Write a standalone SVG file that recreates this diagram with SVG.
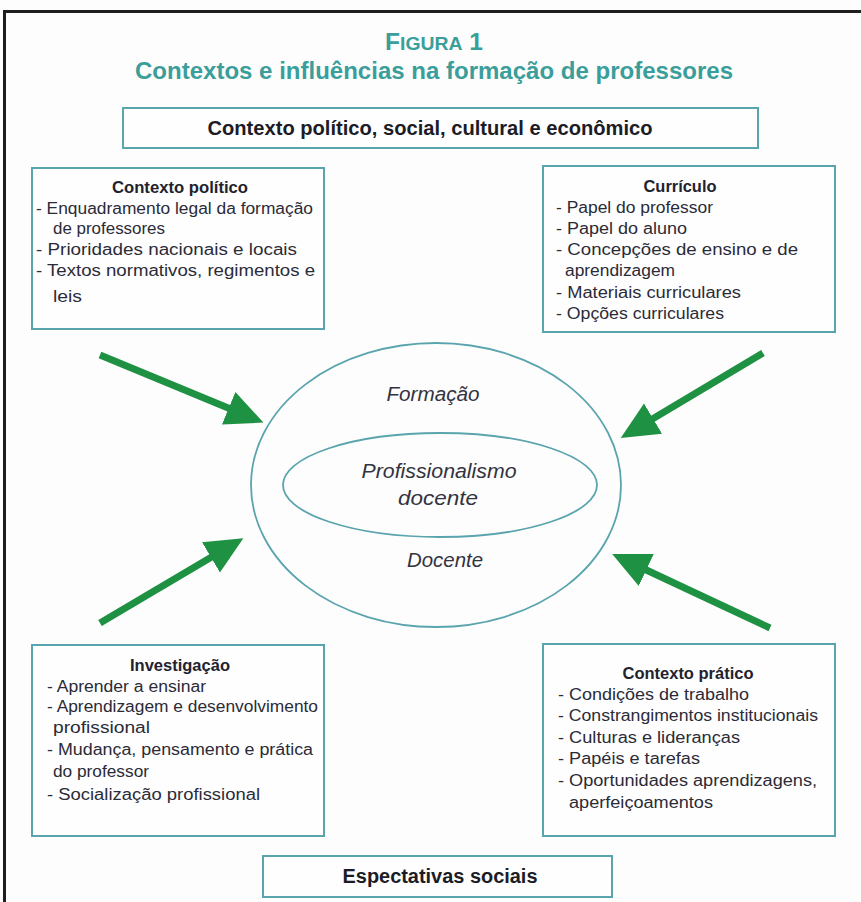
<svg xmlns="http://www.w3.org/2000/svg" width="861" height="902" viewBox="0 0 861 902">
<style>
.bg{fill:#fdfdfd}
.frame{stroke:#1e1e1e;stroke-width:3;fill:none}
.box{fill:#fefefe;stroke:#5aa4ae;stroke-width:2}
.ell{fill:none;stroke:#5aa4ae;stroke-width:1.8}
.t{font-family:"Liberation Sans",Arial,sans-serif;font-size:16px;fill:#2b2b38}
.h{font-family:"Liberation Sans Narrow","Liberation Sans",Arial,sans-serif;font-weight:bold;font-size:16px;fill:#22222e}
.hb{font-family:"Liberation Sans Narrow","Liberation Sans",Arial,sans-serif;font-weight:bold;font-size:20px;fill:#1c1c26}
.ti{font-family:"Liberation Sans Narrow","Liberation Sans",Arial,sans-serif;font-weight:bold;fill:#3a9e9b}
.it{font-family:"Liberation Sans",Arial,sans-serif;font-style:italic;font-size:20px;fill:#333340}
.arr{stroke:#1f9142;stroke-width:7;fill:none;marker-end:url(#ah)}
</style>
<defs>
<marker id="ah" markerUnits="userSpaceOnUse" markerWidth="40" markerHeight="40" viewBox="0 -16 34 32" refX="4" refY="0" orient="auto">
<path d="M0,-15 L32,0 L0,15 z" fill="#1f9142"/>
</marker>
</defs>
<rect class="bg" x="0" y="0" width="861" height="902"/>
<path class="frame" d="M4.5,902 L4.5,11.5 L861,11.5"/>

<g id="title">
<text class="ti" x="434" y="50" text-anchor="middle" textLength="98" lengthAdjust="spacingAndGlyphs"><tspan font-size="24">F</tspan><tspan font-size="19">IGURA</tspan><tspan font-size="24"> 1</tspan></text>
<text class="ti" x="434" y="79" text-anchor="middle" font-size="24" textLength="598" lengthAdjust="spacingAndGlyphs">Contextos e influências na formação de professores</text>
</g>

<g id="contexto-geral">
<rect class="box" x="123" y="108" width="635" height="40"/>
<text class="hb" x="430" y="135" text-anchor="middle" font-size="19" textLength="445" lengthAdjust="spacingAndGlyphs">Contexto político, social, cultural e econômico</text>
</g>

<g id="contexto-politico">
<rect class="box" x="32" y="168" width="292" height="161"/>
<text class="h" x="180" y="193" text-anchor="middle" textLength="136" lengthAdjust="spacingAndGlyphs">Contexto político</text>
<text class="t" x="36" y="214" textLength="277" lengthAdjust="spacingAndGlyphs">- Enquadramento legal da formação</text>
<text class="t" x="53" y="234" textLength="112" lengthAdjust="spacingAndGlyphs">de professores</text>
<text class="t" x="36" y="255" textLength="261" lengthAdjust="spacingAndGlyphs">- Prioridades nacionais e locais</text>
<text class="t" x="36" y="276" textLength="279" lengthAdjust="spacingAndGlyphs">- Textos normativos, regimentos e</text>
<text class="t" x="53" y="302" textLength="29" lengthAdjust="spacingAndGlyphs">leis</text>
</g>

<g id="curriculo">
<rect class="box" x="543" y="166" width="292" height="166"/>
<text class="h" x="680" y="192" text-anchor="middle" textLength="73" lengthAdjust="spacingAndGlyphs">Currículo</text>
<text class="t" x="556" y="213" textLength="157" lengthAdjust="spacingAndGlyphs">- Papel do professor</text>
<text class="t" x="556" y="234" textLength="131" lengthAdjust="spacingAndGlyphs">- Papel do aluno</text>
<text class="t" x="556" y="255" textLength="242" lengthAdjust="spacingAndGlyphs">- Concepções de ensino e de</text>
<text class="t" x="565" y="276" textLength="110" lengthAdjust="spacingAndGlyphs">aprendizagem</text>
<text class="t" x="556" y="298" textLength="185" lengthAdjust="spacingAndGlyphs">- Materiais curriculares</text>
<text class="t" x="556" y="319" textLength="168" lengthAdjust="spacingAndGlyphs">- Opções curriculares</text>
</g>

<g id="investigacao">
<rect class="box" x="32" y="645" width="292" height="191"/>
<text class="h" x="180" y="671" text-anchor="middle" textLength="100" lengthAdjust="spacingAndGlyphs">Investigação</text>
<text class="t" x="47" y="692" textLength="159" lengthAdjust="spacingAndGlyphs">- Aprender a ensinar</text>
<text class="t" x="47" y="712" textLength="271" lengthAdjust="spacingAndGlyphs">- Aprendizagem e desenvolvimento</text>
<text class="t" x="53" y="733" textLength="97" lengthAdjust="spacingAndGlyphs">profissional</text>
<text class="t" x="47" y="755" textLength="266" lengthAdjust="spacingAndGlyphs">- Mudança, pensamento e prática</text>
<text class="t" x="53" y="777" font-size="16" textLength="96" lengthAdjust="spacingAndGlyphs">do professor</text>
<text class="t" x="47" y="800" textLength="213" lengthAdjust="spacingAndGlyphs">- Socialização  profissional</text>
</g>

<g id="contexto-pratico">
<rect class="box" x="543" y="644" width="292" height="192"/>
<text class="h" x="688" y="679" text-anchor="middle" textLength="131" lengthAdjust="spacingAndGlyphs">Contexto prático</text>
<text class="t" x="558" y="700" textLength="191" lengthAdjust="spacingAndGlyphs">- Condições de trabalho</text>
<text class="t" x="558" y="721" textLength="260" lengthAdjust="spacingAndGlyphs">- Constrangimentos institucionais</text>
<text class="t" x="558" y="743" textLength="182" lengthAdjust="spacingAndGlyphs">- Culturas e lideranças</text>
<text class="t" x="558" y="764" textLength="142" lengthAdjust="spacingAndGlyphs">- Papéis e tarefas</text>
<text class="t" x="558" y="786" textLength="259" lengthAdjust="spacingAndGlyphs">- Oportunidades  aprendizagens,</text>
<text class="t" x="569" y="808" textLength="144" lengthAdjust="spacingAndGlyphs">aperfeiçoamentos</text>
</g>

<g id="formacao-docente">
<ellipse class="ell" cx="436" cy="485" rx="185" ry="142"/>
<text class="it" x="433" y="401" text-anchor="middle" textLength="93" lengthAdjust="spacingAndGlyphs">Formação</text>
<text class="it" x="445" y="567" text-anchor="middle" textLength="76" lengthAdjust="spacingAndGlyphs">Docente</text>
</g>

<g id="profissionalismo">
<ellipse class="ell" cx="440" cy="485" rx="157" ry="52"/>
<text class="it" x="439" y="478" text-anchor="middle" textLength="155" lengthAdjust="spacingAndGlyphs">Profissionalismo</text>
<text class="it" x="438" y="505" text-anchor="middle" textLength="80" lengthAdjust="spacingAndGlyphs">docente</text>
</g>

<g id="espectativas">
<rect class="box" x="263" y="856" width="349" height="41"/>
<text class="hb" x="440" y="883" text-anchor="middle" textLength="195" lengthAdjust="spacingAndGlyphs">Espectativas sociais</text>
</g>

<g id="connectors">
<line class="arr" x1="100" y1="355" x2="233" y2="410"/>
<line class="arr" x1="763" y1="353" x2="649" y2="421"/>
<line class="arr" x1="100" y1="623" x2="215" y2="555"/>
<line class="arr" x1="770" y1="628" x2="642" y2="568"/>
</g>
</svg>
